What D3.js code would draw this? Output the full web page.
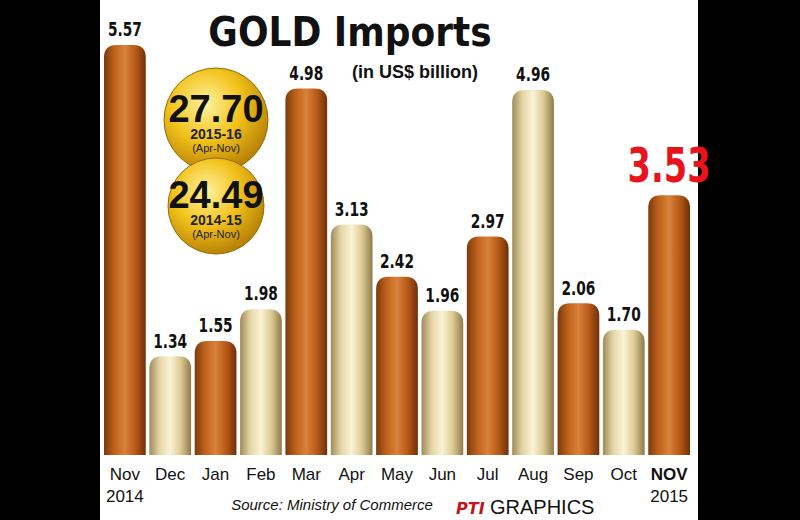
<!DOCTYPE html>
<html><head><meta charset="utf-8">
<script src="https://cdn.jsdelivr.net/npm/d3@7"></script>
<style>body{margin:0;background:#000}</style></head>
<body><svg id="c" width="800" height="520"></svg>
<script>
const months = ["Nov","Dec","Jan","Feb","Mar","Apr","May","Jun","Jul","Aug","Sep","Oct","NOV"];
const years = ["2014","","","","","","","","","","","","2015"];
const values = [5.57,1.34,1.55,1.98,4.98,3.13,2.42,1.96,2.97,4.96,2.06,1.70,3.53];
const labels = ["5.57","1.34","1.55","1.98","4.98","3.13","2.42","1.96","2.97","4.96","2.06","1.70","3.53"];
const totals = [{v:"27.70",y:"2015-16"},{v:"24.49",y:"2014-15"}];

const svg = d3.select("#c");
svg.append("rect").attr("x",0).attr("y",0).attr("width",800).attr("height",520).attr("fill","#000");
svg.append("rect").attr("x",100).attr("y",0).attr("width",598).attr("height",520).attr("fill","#fff");
const defs = svg.append("defs");
function grad(id, stops){
  const g = defs.append("linearGradient").attr("id",id).attr("x1","0").attr("x2","1");
  stops.forEach(([o,c])=>g.append("stop").attr("offset",o).attr("stop-color",c));
}
grad("org",[[0,"#7a3a0c"],[0.25,"#c0621c"],[0.5,"#d9813a"],[0.75,"#b85a18"],[1,"#6e3008"]]);
grad("crm",[[0,"#a08a58"],[0.25,"#e6d7a8"],[0.5,"#fbf3d6"],[0.75,"#ddca92"],[1,"#8f7a48"]]);
const rg = defs.append("radialGradient").attr("id","gold").attr("cx","0.4").attr("cy","0.35").attr("r","0.7");
[[0,"#fff3a0"],[0.5,"#f2c21a"],[1,"#b07a05"]].forEach(([o,c])=>rg.append("stop").attr("offset",o).attr("stop-color",c));

const x = d3.scaleBand().domain(months).range([104,690]).paddingInner(0.08);
const y = d3.scaleLinear().domain([0,5.57]).range([455,45]);

svg.selectAll(".bar").data(values).join("path")
  .attr("fill",(d,i)=>i%2===0?"url(#org)":"url(#crm)")
  .attr("d",(d,i)=>{
    const x0=x(months[i]), w=x.bandwidth(), t=y(d), b=y(0), r=w/2*0.6;
    return `M${x0},${b}V${t+r}Q${x0},${t} ${x0+r},${t}H${x0+w-r}Q${x0+w},${t} ${x0+w},${t+r}V${b}Z`;
  });

svg.selectAll(".val").data(values).join("text")
  .attr("x",(d,i)=>x(months[i])+x.bandwidth()/2)
  .attr("y",(d,i)=>y(d)-(i===12?12:8))
  .attr("text-anchor","middle")
  .attr("font-family","Liberation Sans Narrow, DejaVu Sans Condensed, sans-serif")
  .attr("font-weight","bold")
  .attr("font-size",(d,i)=>i===12?44:18)
  .attr("fill",(d,i)=>i===12?"#e8141c":"#111")
  .attr("transform",(d,i)=>{const cx=x(months[i])+x.bandwidth()/2, cy=y(d);return `translate(${cx},${cy}) scale(0.85,1.1) translate(${-cx},${-cy})`;})
  .text((d,i)=>labels[i]);

svg.selectAll(".mo").data(months).join("text")
  .attr("x",d=>x(d)+x.bandwidth()/2).attr("y",480)
  .attr("text-anchor","middle").attr("font-family","Liberation Sans Narrow, sans-serif")
  .attr("font-size",17).attr("font-weight",(d,i)=>i===12?"bold":"normal").attr("fill","#111").text(d=>d);
svg.selectAll(".yr").data(years).join("text")
  .attr("x",(d,i)=>x(months[i])+x.bandwidth()/2).attr("y",502)
  .attr("text-anchor","middle").attr("font-family","Liberation Sans Narrow, sans-serif")
  .attr("font-size",17).attr("fill","#111").text(d=>d);

svg.append("text").attr("x",350).attr("y",46).attr("text-anchor","middle")
  .attr("font-family","DejaVu Sans, sans-serif").attr("font-weight","bold").attr("font-size",40)
  .attr("transform","translate(350,46) scale(0.9,1) translate(-350,-46)")
  .attr("fill","#111").text("GOLD Imports");
svg.append("text").attr("x",415).attr("y",78).attr("text-anchor","middle")
  .attr("font-family","Liberation Sans Narrow, sans-serif").attr("font-weight","bold").attr("font-size",18)
  .attr("fill","#111").text("(in US$ billion)");

const circ=[{cx:216,cy:120,r:52},{cx:216,cy:206,r:48}];
circ.forEach((c,i)=>{
  svg.append("circle").attr("cx",c.cx).attr("cy",c.cy).attr("r",c.r).attr("fill","url(#gold)").attr("stroke","#9a6a05");
  svg.append("text").attr("x",c.cx).attr("y",c.cy+2).attr("text-anchor","middle")
    .attr("font-family","Liberation Sans Narrow, sans-serif").attr("font-weight","bold").attr("font-size",38).attr("fill","#111").text(totals[i].v);
  svg.append("text").attr("x",c.cx).attr("y",c.cy+19).attr("text-anchor","middle")
    .attr("font-family","Liberation Sans Narrow, sans-serif").attr("font-weight","bold").attr("font-size",14).attr("fill","#222").text(totals[i].y);
  svg.append("text").attr("x",c.cx).attr("y",c.cy+32).attr("text-anchor","middle")
    .attr("font-family","Liberation Sans Narrow, sans-serif").attr("font-size",11).attr("fill","#222").text("(Apr-Nov)");
});

svg.append("text").attr("x",332).attr("y",510).attr("text-anchor","middle")
  .attr("font-family","Liberation Sans Narrow, sans-serif").attr("font-style","italic").attr("font-size",15)
  .attr("fill","#111").text("Source: Ministry of Commerce");
svg.append("text").attr("x",456).attr("y",514)
  .attr("font-family","DejaVu Sans, sans-serif").attr("font-weight","bold").attr("font-style","italic").attr("font-size",16)
  .attr("fill","#c0161c").text("PTI");
svg.append("text").attr("x",490).attr("y",514)
  .attr("font-family","Liberation Sans Narrow, sans-serif").attr("font-size",20)
  .attr("fill","#111").text("GRAPHICS");
</script></body></html>
